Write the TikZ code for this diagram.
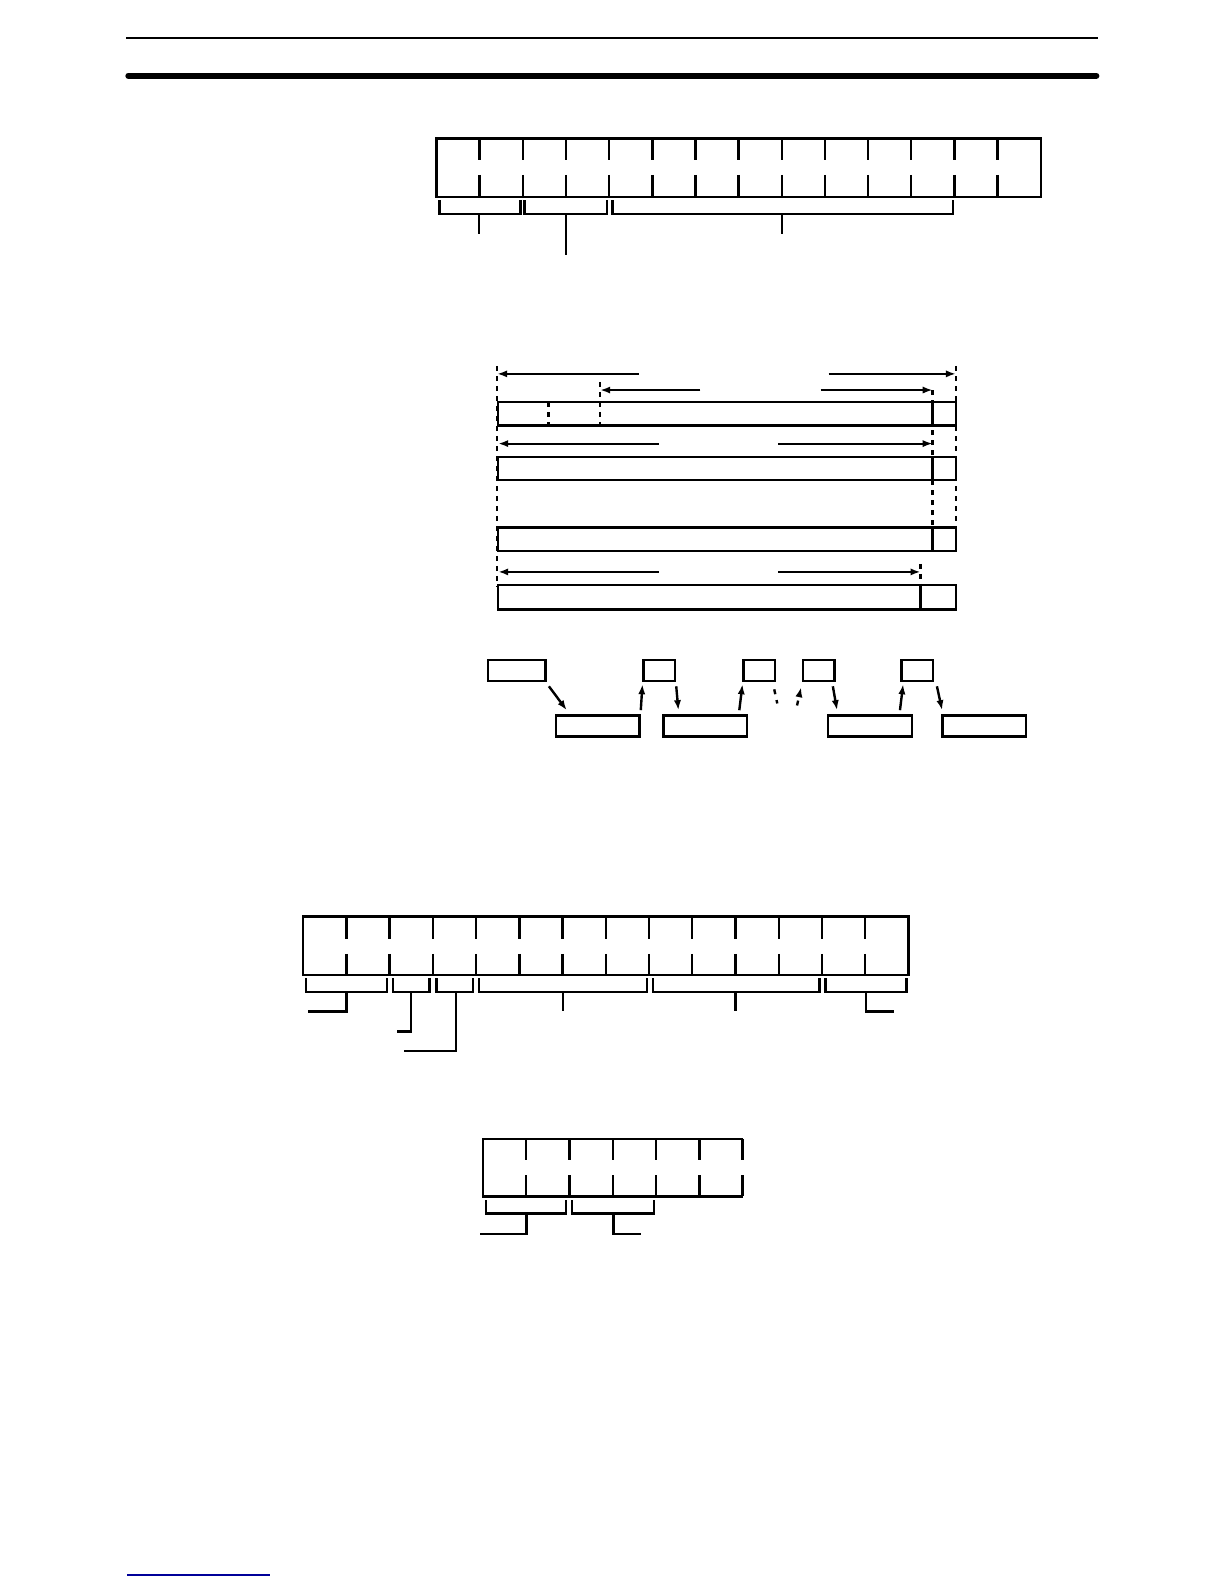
\documentclass[tikz,border=0pt]{standalone}
\usetikzlibrary{arrows.meta}
\begin{document}
\begin{tikzpicture}[x=0.5053pt, y=-0.5053pt, line width=1.2pt,
        box/.style={draw, rectangle, line width=1.2pt, inner sep=0pt, minimum height=10.6pt},
        arr/.style={line width=1pt, -{Latex[length=5pt, width=3.6pt]}},
        guide/.style={line width=1.2pt, dash pattern=on 2.5pt off 2.5pt}]
        \useasboundingbox (0,0) rectangle (1211.3,1567.6);

        \draw[line width=1pt] (125,38) -- (1087,38);
        \draw[line width=3pt, line cap=round] (127,75) -- (1085,75);

        \draw (432,137) rectangle (1030,195);
        \foreach \i in {1,...,13} {
            \draw ({432+\i*42.71},137) -- ++(0,21) ({432+\i*42.71},173) -- ++(0,22);
        }
        \draw (435,198) -- (435,212) -- (515,212) -- (515,198);
        \draw (519,198) -- (519,212) -- (601,212) -- (601,198);
        \draw (606,198) -- (606,212) -- (943,212) -- (943,198);
        \draw (474,212) -- (474,232);
        \draw (560,212) -- (560,252);
        \draw (774,212) -- (774,232);

        \draw (493,398) rectangle (946,421);
        \draw (923,398) -- (923,421);
        \draw (493,452) rectangle (946,475);
        \draw (923,452) -- (923,475);
        \draw (493,522) rectangle (946,545);
        \draw (923,522) -- (923,545);
        \draw (493,579) rectangle (946,603);
        \draw (911,579) -- (911,603);

        \begin{scope}[guide]
            \draw (492,362) -- (492,580);
            \draw (946,362) -- (946,526);
            \draw (923,386) -- (923,522);
            \draw (594,378) -- (594,421);
            \draw (543,398) -- (543,421);
            \draw (911,558) -- (911,579);
        \end{scope}

        \draw[arr] (632,370) -- (492,370);
        \draw[arr] (820,370) -- (946,370);
        \draw[arr] (693,386) -- (594,386);
        \draw[arr] (812,386) -- (923,386);
        \draw[arr] (652,439) -- (493,439);
        \draw[arr] (770,439) -- (923,439);
        \draw[arr] (652,566) -- (493,566);
        \draw[arr] (770,566) -- (911,566);

        \node[box, minimum width=28.8pt] (A) at (511.5,663.5) {};
        \node[box, minimum width=15.7pt] (B) at (652.5,663.5) {};
        \node[box, minimum width=15.7pt] (C) at (751.5,663.5) {};
        \node[box, minimum width=15.7pt] (D) at (810.5,663.5) {};
        \node[box, minimum width=15.7pt] (E) at (907.5,663.5) {};

        \node[box, minimum width=41.9pt] (F) at (591.5,718.5) {};
        \node[box, minimum width=41.9pt] (G) at (698,718.5) {};
        \node[box, minimum width=41.9pt] (H) at (861,718.5) {};
        \node[box, minimum width=41.9pt] (I) at (974,718.5) {};

        \begin{scope}[arr, line width=1.2pt]
            \draw ([shift={(2,4)}]A.south east) -- ([shift={(12,-4)}]F.north west);
            \draw ([shift={(0,-4)}]F.north east) -- ([shift={(0,2)}]B.south west);
            \draw ([shift={(0,4)}]B.south east) -- ([shift={(16,-4)}]G.north west);
            \draw ([shift={(-9,-4)}]G.north east) -- ([shift={(0,2)}]C.south west);
            \draw ([shift={(-3,4)}]D.south east) -- ([shift={(10,-4)}]H.north west);
            \draw ([shift={(-13,-4)}]H.north east) -- ([shift={(3,2)}]E.south west);
            \draw ([shift={(3,4)}]E.south east) -- ([shift={(1,-4)}]I.north west);
        \end{scope}

        \begin{scope}[dash pattern=on 2.5pt off 3pt, line width=1.2pt]
            \draw ([shift={(-2,7)}]C.south east) -- ([shift={(1,21)}]C.south east);
            \draw[arr, line width=1.2pt] ([shift={(-5,23)}]D.south west) -- ([shift={(-1,5)}]D.south west);
        \end{scope}

        \draw (300,907) rectangle (899,965);
        \foreach \i in {1,...,13} {
            \draw ({300+\i*42.79},907) -- ++(0,22) ({300+\i*42.79},944) -- ++(0,21);
        }
        \draw (303,968) -- (303,982) -- (383,982) -- (383,968);
        \draw (389,968) -- (389,982) -- (425,982) -- (425,968);
        \draw (432,968) -- (432,982) -- (468,982) -- (468,968);
        \draw (474,968) -- (474,982) -- (640,982) -- (640,968);
        \draw (646,968) -- (646,982) -- (811,982) -- (811,968);
        \draw (817,968) -- (817,982) -- (897,982) -- (897,968);
        \draw (343,982) -- (343,1001) -- (305,1001);
        \draw (407,982) -- (407,1021) -- (393,1021);
        \draw (451,982) -- (451,1040) -- (400,1040);
        \draw (557,982) -- (557,1001);
        \draw (728,982) -- (728,1001);
        \draw (857,982) -- (857,1001) -- (885,1001);

        \draw (735,1127) -- (478,1127) -- (478,1184) -- (735,1184);
        \foreach \i in {1,...,6} {
            \draw ({478+\i*42.83},1127) -- ++(0,21) ({478+\i*42.83},1163) -- ++(0,21);
        }
        \draw (481,1188) -- (481,1201) -- (560,1201) -- (560,1188);
        \draw (566,1188) -- (566,1201) -- (647,1201) -- (647,1188);
        \draw (521,1201) -- (521,1221) -- (475,1221);
        \draw (607,1201) -- (607,1221) -- (634,1221);

        \draw[blue!60!black, line width=0.8pt] (126,1558.6) -- (267,1558.6);
    \end{tikzpicture}
\end{document}
